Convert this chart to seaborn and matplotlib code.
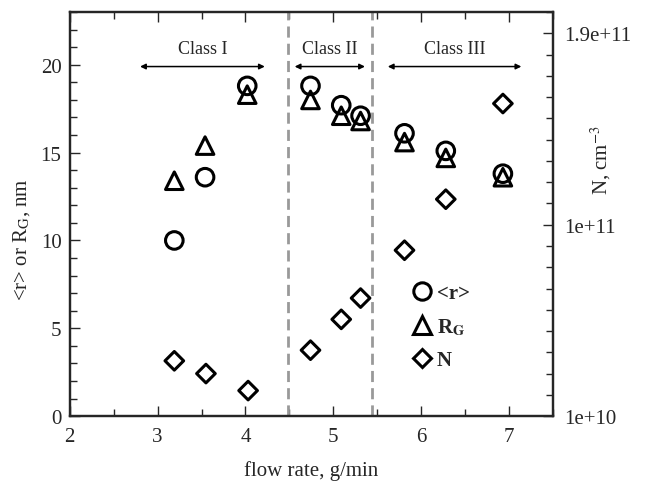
import matplotlib
matplotlib.use("Agg")
import matplotlib.pyplot as plt
from matplotlib.lines import Line2D
from matplotlib.ticker import MultipleLocator, FixedLocator
import seaborn as sns
import numpy as np

# ---- data ----
flow_r = [3.19, 3.54, 4.02, 4.74, 5.09, 5.31, 5.81, 6.28, 6.93]
r_mean = [10.0, 13.6, 18.8, 18.8, 17.7, 17.1, 16.1, 15.1, 13.8]
flow_rg = [3.19, 3.54, 4.02, 4.74, 5.09, 5.31, 5.81, 6.28, 6.93]
r_g = [13.4, 15.4, 18.3, 18.0, 17.1, 16.8, 15.6, 14.7, 13.6]
flow_n = [3.19, 3.55, 4.03, 4.74, 5.09, 5.31, 5.81, 6.28, 6.93]
n_conc = [3.6e10, 3.0e10, 2.2e10, 4.1e10, 5.55e10, 6.55e10, 8.8e10, 1.12e11, 1.57e11]
class_names = ["Class I", "Class II", "Class III"]
class_start = [2.8, 4.56, 5.62]
class_end = [4.22, 5.36, 7.14]
boundaries = [4.48, 5.44]

sns.set_style("ticks")
plt.rcParams["font.family"] = ["Liberation Serif", "DejaVu Serif"]
plt.rcParams["mathtext.fontset"] = "stix"

fig = plt.figure(figsize=(6.46, 4.85), dpi=100)
ax = fig.add_axes([0.108, 0.140, 0.748, 0.833])
ax2 = ax.twinx()

mk = dict(facecolor="none", edgecolor="black", linewidth=2.2, zorder=5)
sns.scatterplot(x=flow_r, y=r_mean, marker="o", s=160, ax=ax, **mk)
sns.scatterplot(x=flow_rg, y=r_g, marker="^", s=160, ax=ax, **mk)
sns.scatterplot(x=flow_n, y=n_conc, marker="D", s=90, ax=ax2, **mk)

ax.set_xlim(2, 7.5)
ax.set_ylim(0, 23)
ax2.set_ylim(1e10, 2.0e11)

for b in boundaries:
    ax.axvline(b, color="#999999", linestyle=(0, (4, 2.2)), linewidth=2, zorder=1)

for name, s, e in zip(class_names, class_start, class_end):
    ax.annotate("", xy=(s, 19.9), xytext=(e, 19.9),
                arrowprops=dict(arrowstyle="<|-|>", color="black", lw=1.1,
                                mutation_scale=8, shrinkA=0, shrinkB=0))
    ax.text((s + e) / 2, 20.45, name, ha="center", va="bottom", fontsize=13)

ax.xaxis.set_major_locator(MultipleLocator(1))
ax.xaxis.set_minor_locator(MultipleLocator(0.5))
ax.yaxis.set_major_locator(MultipleLocator(5))
ax.yaxis.set_minor_locator(MultipleLocator(1))
ax.tick_params(axis="x", which="both", direction="in", top=True, labelsize=15, pad=8)
ax.tick_params(axis="x", which="major", length=7, width=1)
ax.tick_params(axis="x", which="minor", length=5, width=1)
ax.tick_params(axis="y", which="both", direction="in", right=False, labelsize=15, pad=6)
ax.tick_params(axis="y", which="major", length=7, width=1)
ax.tick_params(axis="y", which="minor", length=5, width=1)

ax2.yaxis.set_major_locator(FixedLocator([1e10, 1e11, 1.9e11]))
ax2.yaxis.set_minor_locator(MultipleLocator(1e10))
ax2.set_yticklabels(["1e+10", "1e+11", "1.9e+11"])
ax2.tick_params(axis="y", which="both", direction="in", labelsize=15, pad=8)
ax2.tick_params(axis="y", which="major", length=7, width=1)
ax2.tick_params(axis="y", which="minor", length=5, width=1)
ax2.yaxis.get_offset_text().set_visible(False)

for a in (ax, ax2):
    for sp in a.spines.values():
        sp.set_linewidth(1.6)
        sp.set_visible(True)

ax.set_xlabel("flow rate, g/min", fontsize=15, labelpad=10)
ax.set_ylabel("<r> or R$_\\mathrm{G}$, nm", fontsize=15)
ax.yaxis.set_label_coords(-0.078, 0.44)
ax2.set_ylabel("N, cm$^{-3}$", fontsize=15)
ax2.yaxis.set_label_coords(1.074, 0.636)

handles = [
    Line2D([], [], marker="o", linestyle="", markersize=12.5, markerfacecolor="none",
           markeredgecolor="black", markeredgewidth=2.2),
    Line2D([], [], marker="^", linestyle="", markersize=12.5, markerfacecolor="none",
           markeredgecolor="black", markeredgewidth=2.2),
    Line2D([], [], marker="D", linestyle="", markersize=9.5, markerfacecolor="none",
           markeredgecolor="black", markeredgewidth=2.2),
]
labels = ["<r>", "R$_\\mathbf{G}$", "N"]
leg = ax2.legend(handles, labels, loc="upper left", bbox_to_anchor=(0.665, 0.375),
                 frameon=False, handletextpad=0.1, handlelength=1.2, labelspacing=0.62,
                 prop={"weight": "bold", "size": 15})

fig.savefig("out.png", dpi=100)
